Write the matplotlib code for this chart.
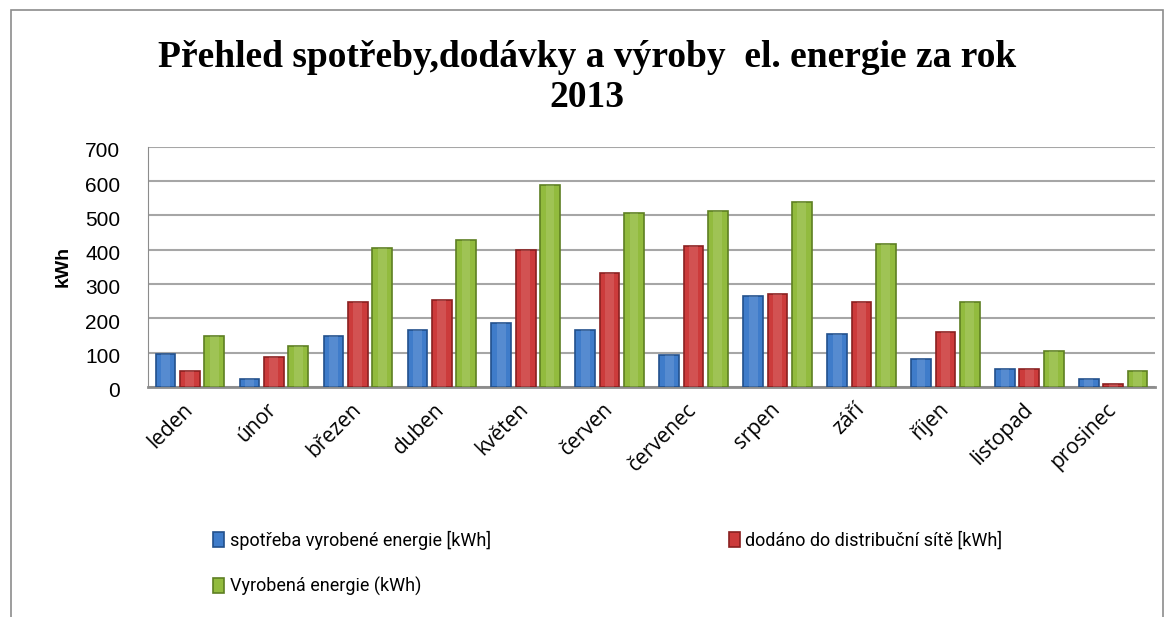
import numpy as np
import matplotlib.pyplot as plt
import matplotlib.transforms as mtransforms
from matplotlib.patches import Rectangle

# months and series values (kWh)
months = ['leden', 'únor', 'březen', 'duben', 'květen', 'červen',
          'červenec', 'srpen', 'září', 'říjen', 'listopad', 'prosinec']
spotreba = [96, 24, 147, 165, 186, 165, 92, 265, 154, 80, 51, 24]
dodano = [46, 86, 247, 253, 400, 332, 410, 271, 247, 159, 51, 7]
vyrobeno = [147, 118, 406, 429, 589, 507, 513, 540, 416, 247, 106, 46]

labels = ['spotřeba vyrobené energie [kWh]',
          'dodáno do distribuční sítě [kWh]',
          'Vyrobená energie (kWh)']
colors = ['#3f7cca', '#cc3b3b', '#92bb3e']
edges = ['#22508c', '#8a2020', '#5e7f22']

fig = plt.figure(figsize=(11.74, 6.17), dpi=100)
ax = fig.add_axes([0.126, 0.373, 0.858, 0.389])

# outer chart border
fig.patches.append(Rectangle((0.009, -0.02), 0.982, 1.004, transform=fig.transFigure,
                             fill=False, edgecolor='#8c8c8c', lw=1.2))

x = np.arange(len(months))
w = 0.235
step = 0.29
handles = []
for i, (vals, c, ec, lab) in enumerate(zip([spotreba, dodano, vyrobeno], colors, edges, labels)):
    h = ax.bar(x + (i - 1) * step, vals, width=w, color=c, edgecolor=ec, linewidth=1.2,
               label=lab, zorder=3)
    # lighter centre strip for the cylinder look
    ax.bar(x + (i - 1) * step, vals, width=w * 0.45, color='white', alpha=0.12,
           linewidth=0, zorder=4)
    handles.append(h)

ax.set_xlim(-0.5, 11.5)
ax.set_ylim(0, 700)
ax.set_yticks(range(0, 701, 100))
ax.yaxis.grid(True, color='#a6a6a6', lw=1.5, zorder=0)
ax.set_axisbelow(True)
for s in ['top', 'right']:
    ax.spines[s].set_visible(False)
ax.spines['left'].set_color('#8c8c8c')
ax.spines['bottom'].set_color('#8c8c8c')
ax.spines['bottom'].set_linewidth(2)
ax.tick_params(axis='y', labelsize=15, length=0, pad=20)
ax.tick_params(axis='x', length=0, pad=14)
ax.set_xticks(x)
ax.set_xticklabels(months, rotation=45, ha='right', va='center', rotation_mode='anchor',
                   fontsize=15, family='Open Sans')
shift = mtransforms.ScaledTranslation(0, -3 / 100, fig.dpi_scale_trans)
for t in ax.get_yticklabels():
    t.set_family('Liberation Sans')
    t.set_transform(t.get_transform() + shift)

ax.set_ylabel('kWh', fontsize=14, fontweight='bold', family='Liberation Sans', labelpad=10)

fig.text(0.5, 0.874, 'Přehled spotřeby,dodávky a výroby  el. energie za rok\n2013',
         ha='center', va='center', fontsize=27, fontweight='bold',
         family='Liberation Serif', linespacing=1.2)

# row-major order: spotřeba, dodáno / Vyrobená
order = [handles[0], handles[2], handles[1]]
fig.legend(order, [h.get_label() for h in order], loc='center left',
           bbox_to_anchor=(0.168, 0.087), ncol=2, frameon=False,
           handlelength=0.6, handleheight=0.9, handletextpad=0.3,
           columnspacing=13.2, labelspacing=1.5, prop={'family': 'Roboto', 'size': 13})

fig.savefig('out.png', dpi=100)
